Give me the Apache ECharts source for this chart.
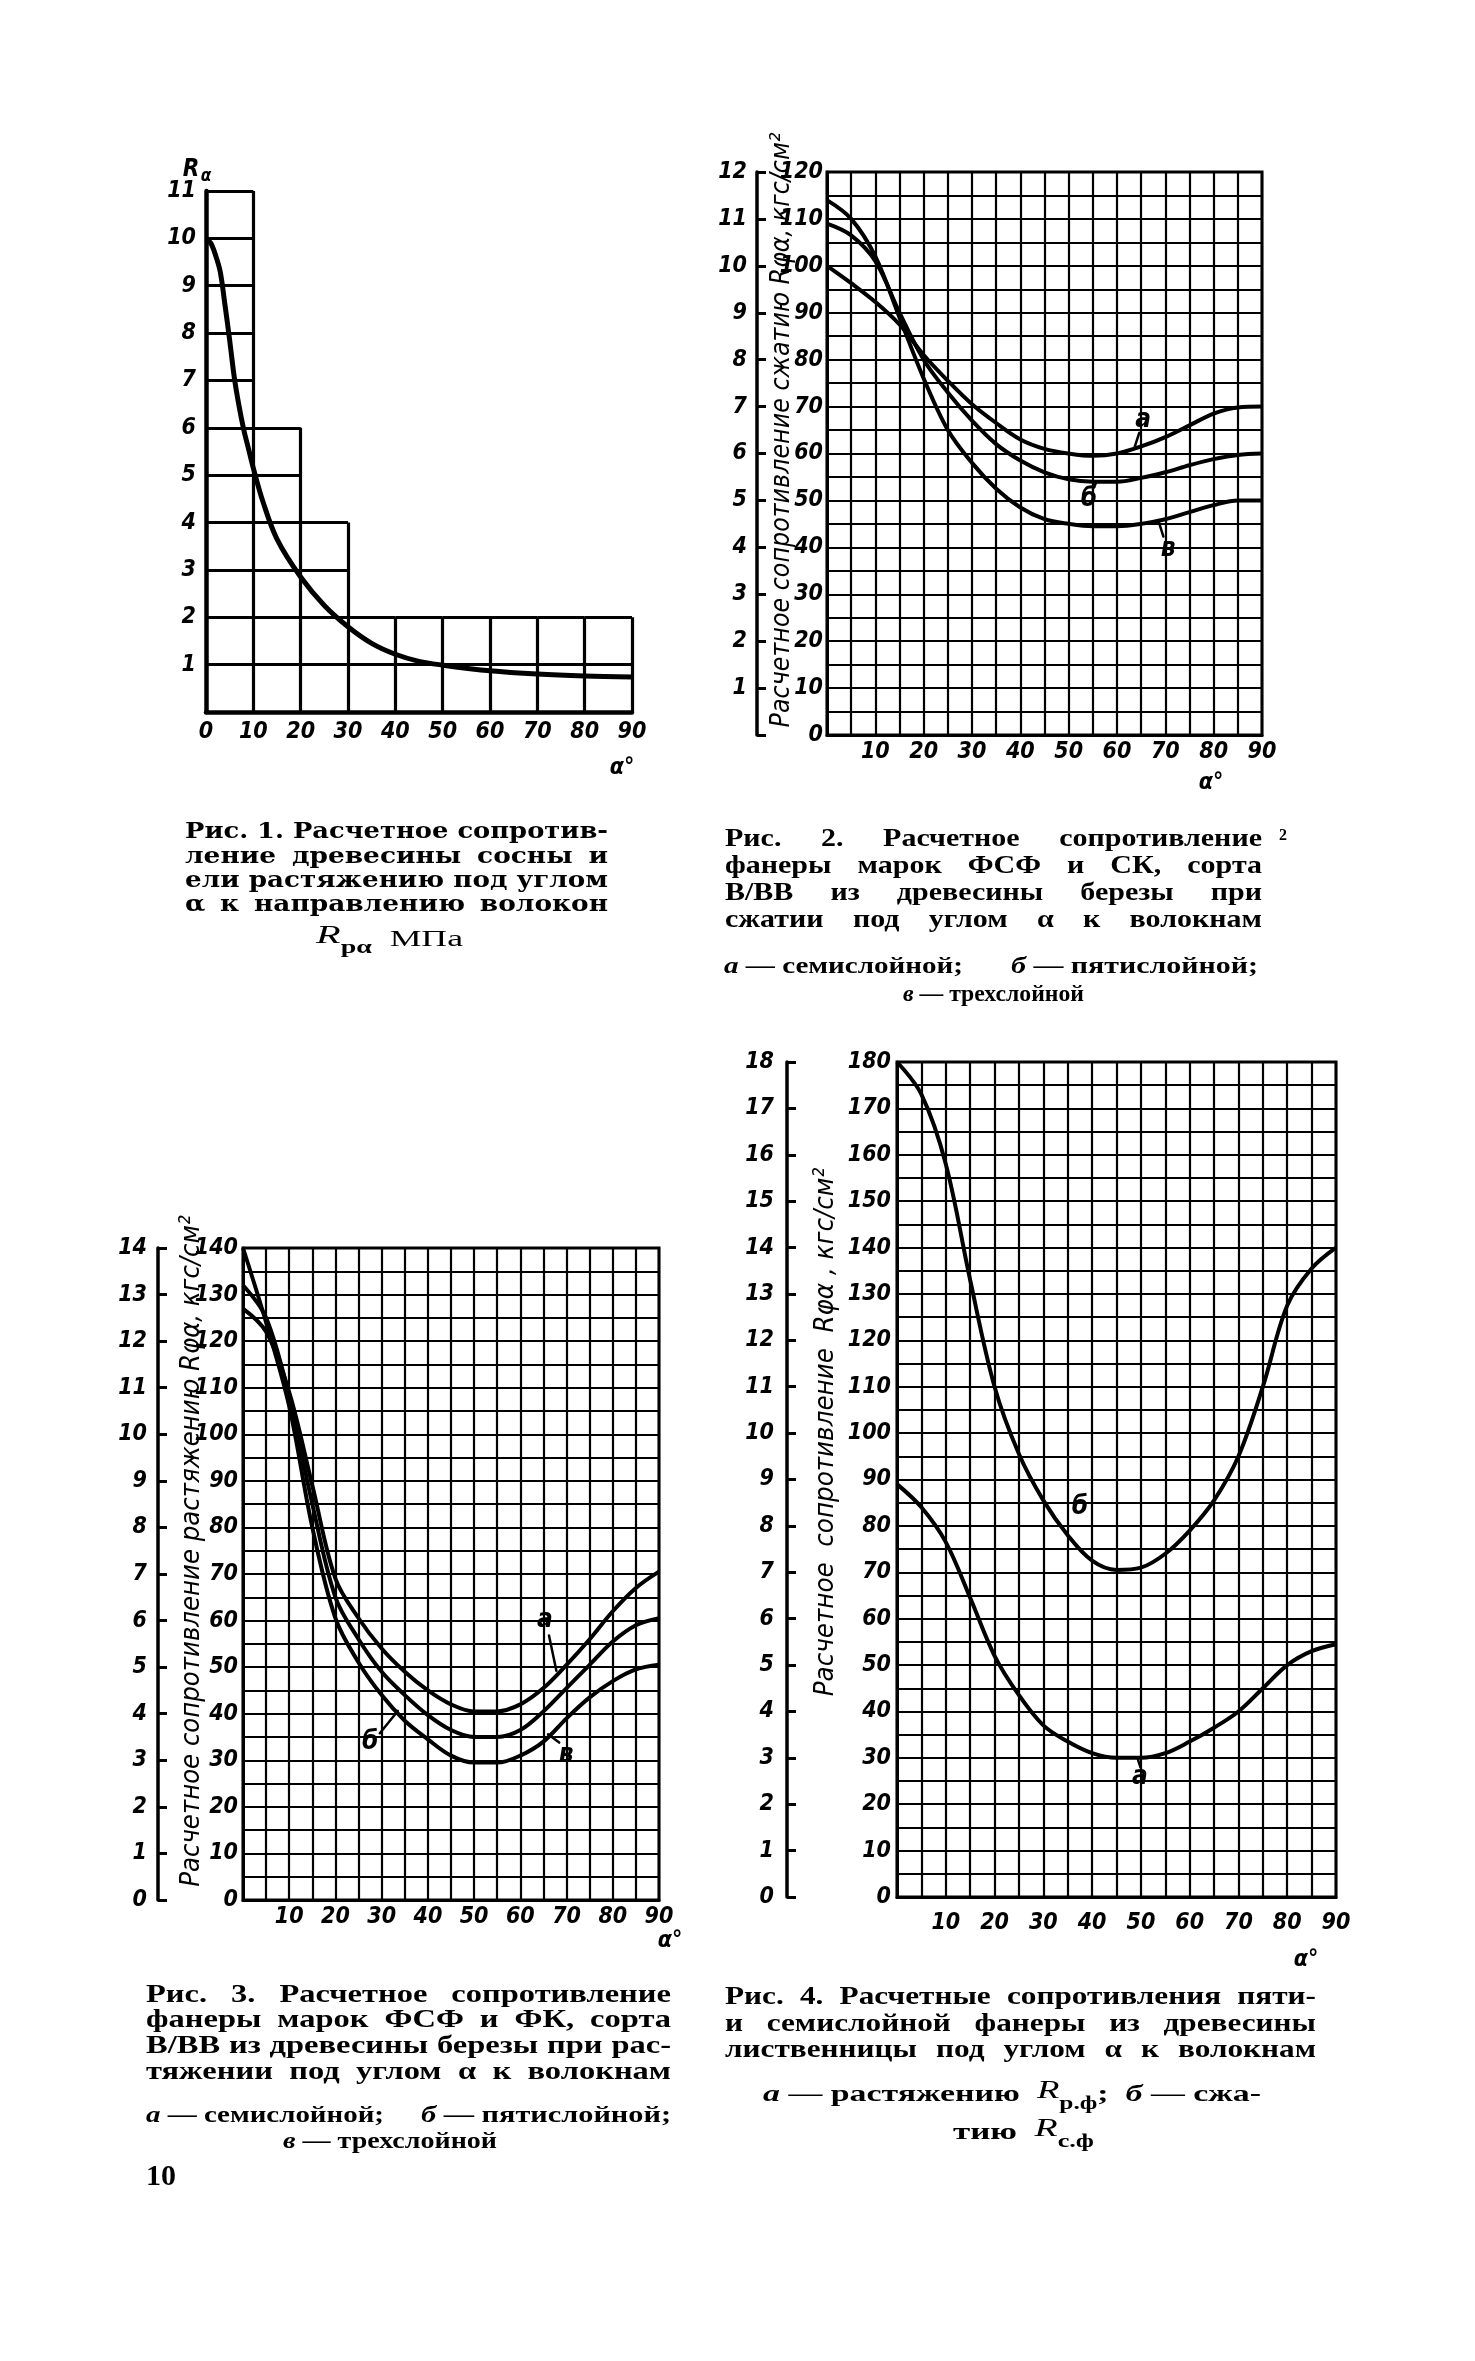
<!DOCTYPE html>
<html><head><meta charset="utf-8">
<script src="https://cdn.jsdelivr.net/npm/echarts@6/dist/echarts.min.js"></script>
<style>html,body{margin:0;padding:0;background:#fff}#c{width:1475px;height:2361px}</style>
</head><body><div id="c"></div>
<script>
// ---------------- DATA ----------------
// Fig. 1: R_alpha (MPa) vs angle
const fig1Angle = [0, 1, 2, 3, 4, 5, 6, 7, 8, 9, 10, 12, 15, 20, 25, 30, 35, 40, 45, 50, 60, 70, 80, 90];
const fig1R = [10.0, 9.9, 9.65, 9.3, 8.6, 7.85, 7.05, 6.45, 5.95, 5.55, 5.15, 4.45, 3.65, 2.85, 2.25, 1.8, 1.45, 1.22, 1.07, 0.99, 0.87, 0.8, 0.76, 0.74];
const fig1StepTops = [11, 6, 4, 2, 2, 2, 2, 2, 2]; // staircase grid column heights (0-10, 10-20, ...)
const fig1XTicks = [0, 10, 20, 30, 40, 50, 60, 70, 80, 90];
const fig1YTicks = [1, 2, 3, 4, 5, 6, 7, 8, 9, 10, 11];

// Fig. 2: compression, kgf/cm2
const fig2Angle = [0, 5, 10, 15, 20, 25, 30, 35, 40, 45, 50, 55, 60, 65, 70, 75, 80, 85, 90];
const fig2A = [100, 96.3, 92.3, 87.5, 81, 75.5, 70.5, 66.5, 63, 61, 60, 59.5, 60, 61.5, 63.5, 66, 68.5, 69.8, 70];
const fig2B = [109, 106.5, 101, 90, 80, 73, 67, 62, 58.5, 56, 54.5, 54, 54, 54.8, 56, 57.5, 58.8, 59.7, 60];
const fig2V = [114, 110, 102, 89, 76, 65, 58, 52.5, 48.5, 46, 45, 44.5, 44.5, 45, 46, 47.5, 49, 50, 50];
const fig2XTicks = [10, 20, 30, 40, 50, 60, 70, 80, 90];
const fig2YTicks = [0, 10, 20, 30, 40, 50, 60, 70, 80, 90, 100, 110, 120];
const fig2ScaleTicks = [1, 2, 3, 4, 5, 6, 7, 8, 9, 10, 11, 12];

// Fig. 3: tension, kgf/cm2
const fig3Angle = [0, 5, 10, 15, 20, 25, 30, 35, 40, 45, 50, 55, 60, 65, 70, 75, 80, 85, 90];
const fig3A = [127, 122, 109, 89, 69, 60.5, 54, 49, 45, 42, 40.5, 40.5, 42, 45.5, 50.5, 56, 62, 67, 70.5];
const fig3B = [132, 125, 108, 85, 65, 56, 49, 44, 39.7, 36.5, 35, 35, 36.5, 40.5, 45.5, 50.5, 55.5, 59, 60.5];
const fig3V = [140, 124, 106, 80, 60.5, 51, 44, 38.5, 34.5, 31, 29.5, 29.5, 31, 34, 39, 43.5, 47, 49.5, 50.5];
const fig3XTicks = [10, 20, 30, 40, 50, 60, 70, 80, 90];
const fig3YTicks = [0, 10, 20, 30, 40, 50, 60, 70, 80, 90, 100, 110, 120, 130, 140];
const fig3ScaleTicks = [0, 1, 2, 3, 4, 5, 6, 7, 8, 9, 10, 11, 12, 13, 14];

// Fig. 4: larch plywood
const fig4Angle = [0, 5, 10, 15, 20, 25, 30, 35, 40, 45, 50, 55, 60, 65, 70, 75, 80, 85, 90];
const fig4B = [180, 173, 158, 133, 110, 95.5, 85.5, 78, 72.5, 70.5, 71, 74, 79, 85.5, 95, 110, 127.5, 135.5, 140];
const fig4A = [89, 84, 76.5, 64.5, 52, 43.5, 37, 33.5, 31, 30, 30, 31, 33.5, 36.5, 40, 45, 50, 53, 54.5];
const fig4XTicks = [10, 20, 30, 40, 50, 60, 70, 80, 90];
const fig4YTicks = [0, 10, 20, 30, 40, 50, 60, 70, 80, 90, 100, 110, 120, 130, 140, 150, 160, 170, 180];
const fig4ScaleTicks = [0, 1, 2, 3, 4, 5, 6, 7, 8, 9, 10, 11, 12, 13, 14, 15, 16, 17, 18];

// curve labels: [text, angle, value] and leader strokes [[angle,value],[angle,value]]
const fig2Labels = [['а', 65.4, 67.1], ['б', 54.2, 50.3], ['в', 70.6, 39.6]];
const fig2Leaders = [[[63.6, 61.2], [64.6, 64.4]], [[55.8, 54.0], [55.0, 52.4]], [[68.6, 45.6], [69.6, 42.3]]];
const fig3Labels = [['а', 65.3, 60.1], ['б', 27.5, 33.9], ['в', 69.9, 31.1]];
const fig3Leaders = [[[66.2, 56.8], [67.8, 49.2]], [[29.6, 35.8], [33.5, 40.6]], [[68.4, 33.8], [66.0, 35.6]]];
const fig4Labels = [['б', 37.5, 84.1], ['а', 49.8, 25.9]];
const fig4Leaders = [[[49.4, 29.6], [49.9, 28.0]]];

// ---------------- STYLE ----------------
const NUM = "'DejaVu Sans Condensed','DejaVu Sans',sans-serif";
const numLabel = (ticks, margin) => ({
  show: true, margin: margin, color: '#000', fontFamily: NUM, fontStyle: 'italic', fontWeight: 'bold', fontSize: 23,
  formatter: v => (ticks.indexOf(Math.round(v * 1000) / 1000) >= 0 ? String(v) : '')
});
const pair = (xs, ys) => xs.map((x, i) => [x, ys[i]]);

const fig1Segs = [];
fig1StepTops.forEach((h, i) => {
  for (let k = 1; k <= h; k++) fig1Segs.push({ coords: [[i * 10, k], [i * 10 + 10, k]] });
});
for (let j = 1; j <= fig1StepTops.length; j++) {
  const h = Math.max(fig1StepTops[j - 1], fig1StepTops[j] || 0);
  fig1Segs.push({ coords: [[j * 10, 0], [j * 10, h]] });
}

const gridBox = { show: true, borderColor: '#000', borderWidth: 3, backgroundColor: 'transparent' };
const splitL = { show: true, lineStyle: { color: '#000', width: 2.2 } };

function gridX(idx, ticks, margin) {
  return {
    gridIndex: idx, type: 'value', min: 0, max: 90, interval: 5,
    axisLine: { show: true, lineStyle: { color: '#000', width: 3 } },
    axisTick: { show: false }, splitLine: splitL, axisLabel: numLabel(ticks, margin)
  };
}
function gridY(idx, max, ticks, margin) {
  return {
    gridIndex: idx, type: 'value', min: 0, max: max, interval: 5, position: 'left',
    axisLine: { show: true, lineStyle: { color: '#000', width: 3 } },
    axisTick: { show: false }, splitLine: splitL, axisLabel: numLabel(ticks, margin)
  };
}
function scaleY(idx, max, ticks, offset, margin) {
  return {
    gridIndex: idx, type: 'value', min: 0, max: max, interval: 1, position: 'left', offset: offset,
    axisLine: { show: true, lineStyle: { color: '#000', width: 3.5 } },
    axisTick: { show: true, inside: true, length: 9, lineStyle: { color: '#000', width: 3 } },
    splitLine: { show: false }, axisLabel: numLabel(ticks, margin)
  };
}
const curve = (xi, yi, data, w) => ({
  type: 'line', xAxisIndex: xi, yAxisIndex: yi, data: data, smooth: 0.35, showSymbol: false, symbol: 'none',
  lineStyle: { color: '#000', width: w }, silent: true, z: 5
});

const option = {
  animation: false,
  backgroundColor: '#fff',
  grid: [
    { left: 206, top: 191, width: 426, height: 521, show: false },
    Object.assign({ left: 827, top: 172, width: 435, height: 563 }, gridBox),
    Object.assign({ left: 243, top: 1248, width: 416, height: 652 }, gridBox),
    Object.assign({ left: 897, top: 1062, width: 439, height: 835 }, gridBox)
  ],
  xAxis: [
    {
      gridIndex: 0, type: 'value', min: 0, max: 90, interval: 10,
      axisLine: { show: true, lineStyle: { color: '#000', width: 4.5 } },
      axisTick: { show: false }, splitLine: { show: false }, axisLabel: numLabel(fig1XTicks, 9)
    },
    gridX(1, fig2XTicks, 6),
    gridX(2, fig3XTicks, 6),
    gridX(3, fig4XTicks, 15)
  ],
  yAxis: [
    {
      gridIndex: 0, type: 'value', min: 0, max: 11, interval: 1,
      axisLine: { show: true, lineStyle: { color: '#000', width: 4.5 } },
      axisTick: { show: false }, splitLine: { show: false }, axisLabel: numLabel(fig1YTicks, 10)
    },
    gridY(1, 120, fig2YTicks, 4),
    scaleY(1, 12, fig2ScaleTicks, 70, 10),
    gridY(2, 140, fig3YTicks, 5),
    scaleY(2, 14, fig3ScaleTicks, 85, 11),
    gridY(3, 180, fig4YTicks, 6),
    scaleY(3, 18, fig4ScaleTicks, 110, 13)
  ],
  series: [
    {
      type: 'lines', coordinateSystem: 'cartesian2d', xAxisIndex: 0, yAxisIndex: 0, polyline: false,
      data: fig1Segs, lineStyle: { color: '#000', width: 3.2, opacity: 1, curveness: 0 }, silent: true, z: 2
    },
    curve(0, 0, pair(fig1Angle, fig1R), 5),
    curve(1, 1, pair(fig2Angle, fig2A), 4),
    curve(1, 1, pair(fig2Angle, fig2B), 4),
    curve(1, 1, pair(fig2Angle, fig2V), 4),
    curve(2, 3, pair(fig3Angle, fig3A), 4),
    curve(2, 3, pair(fig3Angle, fig3B), 4),
    curve(2, 3, pair(fig3Angle, fig3V), 4),
    curve(3, 5, pair(fig4Angle, fig4B), 4),
    curve(3, 5, pair(fig4Angle, fig4A), 4)
  ]
};

const chart = echarts.init(document.getElementById('c'), null, { renderer: 'canvas', width: 1475, height: 2361 });
chart.setOption(option);

// ---------------- ANNOTATIONS / TEXT ----------------
const G = [];
const mctx = document.createElement('canvas').getContext('2d');
const measure = (t, f) => { mctx.font = f; return mctx.measureText(t).width; };

function txt(t, x, y, font, align, valign, rot, sx) {
  G.push({
    type: 'text', x: x, y: y, rotation: rot || 0, scaleX: sx || 1, silent: true, z: 20,
    style: { text: t, font: font, fill: '#000', align: align || 'left', textAlign: align || 'left',
      verticalAlign: valign || 'middle', textVerticalAlign: valign || 'middle' }
  });
}
function seg(p1, p2, w) {
  G.push({ type: 'line', silent: true, z: 20, shape: { x1: p1[0], y1: p1[1], x2: p2[0], y2: p2[1] },
    style: { stroke: '#000', lineWidth: w || 2.5, lineCap: 'round' } });
}
// justified line: letters stretched a little, remaining space into word gaps
function justify(line, x0, x1, y, font, maxS) {
  const words = line.split(' ');
  const sp = measure(' ', font);
  const ws = words.map(w => measure(w, font));
  const tot = ws.reduce((a, b) => a + b, 0);
  const natural = tot + sp * (words.length - 1);
  const s = Math.max(0.85, Math.min(maxS || 1.3, (x1 - x0) / natural));
  const gap = words.length > 1 ? (x1 - x0 - tot * s) / (words.length - 1) : 0;
  let x = x0;
  words.forEach((w, i) => { txt(w, x, y, font, 'left', 'middle', 0, s); x += ws[i] * s + gap; });
}
// run of pieces [text, font, dy] fitted into [x0, x1]
function run(pieces, x0, x1, y) {
  const ws = pieces.map(p => measure(p[0], p[1]));
  const tot = ws.reduce((a, b) => a + b, 0);
  const s = (x1 - x0) / tot;
  let sx = x0;
  pieces.forEach((p, i) => { txt(p[0], sx, y + (p[2] || 0), p[1], 'left', 'middle', 0, s); sx += ws[i] * s; });
}

const AX = 'italic bold 23px ' + NUM;
const LBL = 'italic bold 26px ' + NUM;
const CAP1 = 'bold 22px "DejaVu Serif", serif';
const CAP = 'bold 25px "Liberation Serif", serif';
const CAPI = 'italic bold 24px "Liberation Serif", serif';
const LEG = 'bold 24px "Liberation Serif", serif';
const SUB = 'bold 18px "Liberation Serif", serif';
const RIT = 'italic 26px "Liberation Serif", serif';

// Fig 1 axis names
txt('R', 191, 170, 'italic bold 24px ' + NUM, 'center');
txt('α', 206, 177, 'italic bold 17px ' + NUM, 'center');
txt('α°', 622, 768, AX, 'center');
// Fig 2-4 axis names
txt('α°', 1211, 783, AX, 'center');
txt('α°', 670, 1941, AX, 'center');
txt('α°', 1306, 1960, AX, 'center');

function rotTitle(t, cx, cy, len) {
  const base = 24;
  const w = measure(t, 'italic ' + base + 'px ' + NUM);
  const fs = Math.min(30, base * len / w);
  txt(t, cx, cy, 'italic ' + fs.toFixed(1) + 'px ' + NUM, 'center', 'middle', Math.PI / 2);
}
rotTitle('Расчетное сопротивление сжатию Rφα, кгс/см²', 782, 430, 595);
rotTitle('Расчетное сопротивление растяжению Rφα, кгс/см²', 192, 1551, 673);
rotTitle('Расчетное  сопротивление  Rφα , кгс/см²', 826, 1432, 528);

// curve labels and leader strokes (data coordinates -> pixels)
function labels(list, leaders, sIdx) {
  list.forEach(l => { const p = chart.convertToPixel({ seriesIndex: sIdx }, [l[1], l[2]]); txt(l[0], p[0], p[1], LBL, 'center'); });
  leaders.forEach(s => {
    seg(chart.convertToPixel({ seriesIndex: sIdx }, s[0]), chart.convertToPixel({ seriesIndex: sIdx }, s[1]), 2.5);
  });
}
labels(fig2Labels, fig2Leaders, 2);
labels(fig3Labels, fig3Leaders, 5);
labels(fig4Labels, fig4Leaders, 8);

// Captions
['Рис. 1. Расчетное сопротив-', 'ление древесины сосны и', 'ели растяжению под углом', 'α к направлению волокон']
  .forEach((l, i) => justify(l, 185, 608, [832, 857, 881, 905][i], CAP1, 1.2));
run([['R', RIT, -4], ['рα', SUB, 8], ['  МПа', '23px "Liberation Serif", serif', 0]], 316, 463, 940);

['Рис. 2. Расчетное сопротивление', 'фанеры марок ФСФ и СК, сорта', 'В/ВВ из древесины березы при', 'сжатии под углом α к волокнам']
  .forEach((l, i) => justify(l, 725, 1262, [840, 867, 894, 921][i], CAP, 1.2));
txt('2', 1283, 836, 'bold 16px "Liberation Serif", serif', 'center');
run([['а', CAPI], [' — семислойной;', LEG]], 724, 963, 967);
run([['б', CAPI], [' — пятислойной;', LEG]], 1011, 1258, 967);
run([['в', CAPI], [' — трехслойной', LEG]], 903, 1084, 995);

['Рис. 3. Расчетное сопротивление', 'фанеры марок ФСФ и ФК, сорта', 'В/ВВ из древесины березы при рас-', 'тяжении под углом α к волокнам']
  .forEach((l, i) => justify(l, 146, 671, [1996, 2021, 2047, 2073][i], CAP, 1.3));
run([['а', CAPI], [' — семислойной;', LEG]], 146, 384, 2116);
run([['б', CAPI], [' — пятислойной;', LEG]], 421, 671, 2116);
run([['в', CAPI], [' — трехслойной', LEG]], 283, 497, 2142);
txt('10', 146, 2177, 'bold 30px "Liberation Serif", serif', 'left');

['Рис. 4. Расчетные сопротивления пяти-', 'и семислойной фанеры из древесины', 'лиственницы под углом α к волокнам']
  .forEach((l, i) => justify(l, 725, 1316, [1998, 2025, 2051][i], CAP, 1.25));
run([['а', CAPI], [' — растяжению  ', LEG], ['R', RIT, -4], ['р.ф', SUB, 9], [';  ', LEG], ['б', CAPI], [' — сжа-', LEG]], 763, 1261, 2095);
run([['тию  ', LEG], ['R', RIT, -4], ['с.ф', SUB, 9]], 953, 1094, 2133);

chart.setOption({ graphic: { elements: G } });
</script>
</body></html>
